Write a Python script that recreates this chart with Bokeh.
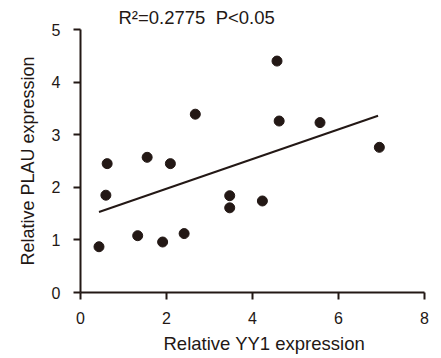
import numpy as np
from bokeh.plotting import figure
from bokeh.models import Range1d, FixedTicker, Title
from bokeh.embed import file_html
from bokeh.resources import INLINE

# Data
yy1 = [0.43, 0.62, 0.59, 1.33, 1.55, 1.91, 2.09, 2.41, 2.67, 3.47, 3.47, 4.23, 4.57, 4.62, 5.57, 6.95]
plau = [0.87, 2.45, 1.85, 1.08, 2.57, 0.96, 2.45, 1.12, 3.39, 1.84, 1.61, 1.74, 4.40, 3.26, 3.23, 2.76]
fit_x = [0.43, 6.92]
fit_y = [1.53, 3.36]
x_ticks = [0, 2, 4, 6, 8]
y_ticks = [0, 1, 2, 3, 4, 5]
title_text = "R\u00b2=0.2775\u00a0\u00a0P<0.05"
x_title = "Relative YY1 expression"
y_title = "Relative PLAU expression"

INK = "#231815"
FONT = "Liberation Sans"

p = figure(width=433, height=358, output_backend="svg", toolbar_location=None,
           x_range=Range1d(0, 8), y_range=Range1d(0, 5),
           min_border_left=80, min_border_right=9, min_border_top=29, min_border_bottom=66)
p.outline_line_color = None
p.xgrid.visible = False
p.ygrid.visible = False
p.background_fill_color = "white"
p.border_fill_color = "white"

for ax in (p.xaxis[0], p.yaxis[0]):
    ax.axis_line_width = 2
    ax.axis_line_color = INK
    ax.major_tick_line_width = 2
    ax.major_tick_line_color = INK
    ax.major_tick_in = 0
    ax.major_tick_out = 7
    ax.minor_tick_line_color = None
    ax.major_label_text_font = FONT
    ax.major_label_text_font_size = "16px"
    ax.major_label_text_color = INK
    ax.axis_label_text_font = FONT
    ax.axis_label_text_font_size = "18px"
    ax.axis_label_text_font_style = "normal"
    ax.axis_label_text_color = INK

p.xaxis[0].ticker = FixedTicker(ticks=x_ticks)
p.yaxis[0].ticker = FixedTicker(ticks=y_ticks)
p.xaxis[0].major_label_standoff = 12
p.yaxis[0].major_label_standoff = 13
p.yaxis[0].axis_label = y_title
p.yaxis[0].axis_label_standoff = 11

p.line(fit_x, fit_y, line_color=INK, line_width=2)
p.scatter(yy1, plau, size=10, fill_color=INK, line_color=INK)

p.add_layout(Title(text=title_text, align="left", offset=38, text_font=FONT,
                   text_font_size="18.5px", text_font_style="normal", text_color=INK,
                   standoff=4), "above")
p.add_layout(Title(text=x_title, align="left", offset=83, text_font=FONT,
                   text_font_size="18.5px", text_font_style="normal", text_color=INK,
                   standoff=8), "below")

open("out.html", "w").write(file_html(p, INLINE))
